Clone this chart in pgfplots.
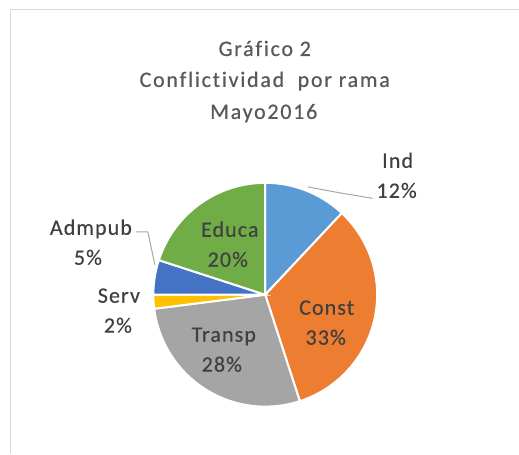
\documentclass[border=0pt]{standalone}
\usepackage{pgfplots}
\pgfplotsset{compat=1.18}
\usepackage{fontspec}
\setmainfont{Carlito}
\newfontfamily\titlefont[LetterSpace=8, Ligatures=NoCommon, FakeBold=0.6]{Carlito}
\newfontfamily\labfont[LetterSpace=5, Ligatures=NoCommon, FakeBold=0.4]{Carlito}
\definecolor{cInd}{HTML}{5B9BD5}
\definecolor{cConst}{HTML}{ED7D31}
\definecolor{cTransp}{HTML}{A5A5A5}
\definecolor{cServ}{HTML}{FFC000}
\definecolor{cAdm}{HTML}{4472C4}
\definecolor{cEduca}{HTML}{70AD47}
\definecolor{titlegray}{HTML}{595959}
\definecolor{labgray}{HTML}{404040}
\definecolor{framegray}{HTML}{D9D9D9}
\definecolor{leadgray}{HTML}{A6A6A6}
% pie geometry (pixel coordinates): centre and radius
\def\cx{265.5}
\def\cy{295}
\def\rr{112}
\begin{document}
\begin{tikzpicture}
\begin{axis}[width=519bp, height=454bp, scale only axis,
  xmin=0, xmax=519, ymin=0, ymax=454, y dir=reverse,
  hide axis, clip=false]
\path (rel axis cs:0,0) rectangle (rel axis cs:1,1);
% chart frame
\addplot[draw=framegray, line width=1bp] coordinates {(10.5,454) (10.5,9.5) (519,9.5)};
% slices: cumulative percentages (start:end)
\addplot[fill=cInd, draw=white, line width=2bp, domain=0:12, samples=40]
  ({\cx+\rr*cos(90-3.6*x)}, {\cy-\rr*sin(90-3.6*x)}) -- (axis cs:\cx,\cy) -- cycle;
\addplot[fill=cConst, draw=white, line width=2bp, domain=12:45, samples=80]
  ({\cx+\rr*cos(90-3.6*x)}, {\cy-\rr*sin(90-3.6*x)}) -- (axis cs:\cx,\cy) -- cycle;
\addplot[fill=cTransp, draw=white, line width=2bp, domain=45:73, samples=70]
  ({\cx+\rr*cos(90-3.6*x)}, {\cy-\rr*sin(90-3.6*x)}) -- (axis cs:\cx,\cy) -- cycle;
\addplot[fill=cServ, draw=white, line width=2bp, domain=73:75, samples=10]
  ({\cx+\rr*cos(90-3.6*x)}, {\cy-\rr*sin(90-3.6*x)}) -- (axis cs:\cx,\cy) -- cycle;
\addplot[fill=cAdm, draw=white, line width=2bp, domain=75:80, samples=15]
  ({\cx+\rr*cos(90-3.6*x)}, {\cy-\rr*sin(90-3.6*x)}) -- (axis cs:\cx,\cy) -- cycle;
\addplot[fill=cEduca, draw=white, line width=2bp, domain=80:100, samples=50]
  ({\cx+\rr*cos(90-3.6*x)}, {\cy-\rr*sin(90-3.6*x)}) -- (axis cs:\cx,\cy) -- cycle;
% leader lines
\addplot[draw=leadgray, line width=1bp, smooth] coordinates {(308,187) (340,193) (373,198.5)};
\addplot[draw=leadgray, line width=1bp] coordinates {(136,232) (148,232) (155,265)};
% title
\begin{scope}[every node/.style={anchor=base, text=titlegray, font=\titlefont\fontsize{22bp}{26bp}\selectfont}]
\node at (axis cs:265,56) {Gráfico 2};
\node at (axis cs:265,87) {Conflictividad\ \ por rama};
\node at (axis cs:264,119) {Mayo2016};
\end{scope}
% data labels
\begin{scope}[every node/.style={anchor=base, text=labgray, font=\labfont\fontsize{22bp}{26bp}\selectfont}]
\node at (axis cs:398,168) {Ind};
\node at (axis cs:397,198) {12\%};
\node at (axis cs:327,315) {Const};
\node at (axis cs:326,345) {33\%};
\node at (axis cs:224,342) {Transp};
\node at (axis cs:222,372) {28\%};
\node at (axis cs:119,303) {Serv};
\node at (axis cs:118,333) {2\%};
\node at (axis cs:91,235) {Admpub};
\node at (axis cs:88,265) {5\%};
\node at (axis cs:230,237) {Educa};
\node at (axis cs:228,267) {20\%};
\end{scope}
\end{axis}
\end{tikzpicture}
\end{document}
